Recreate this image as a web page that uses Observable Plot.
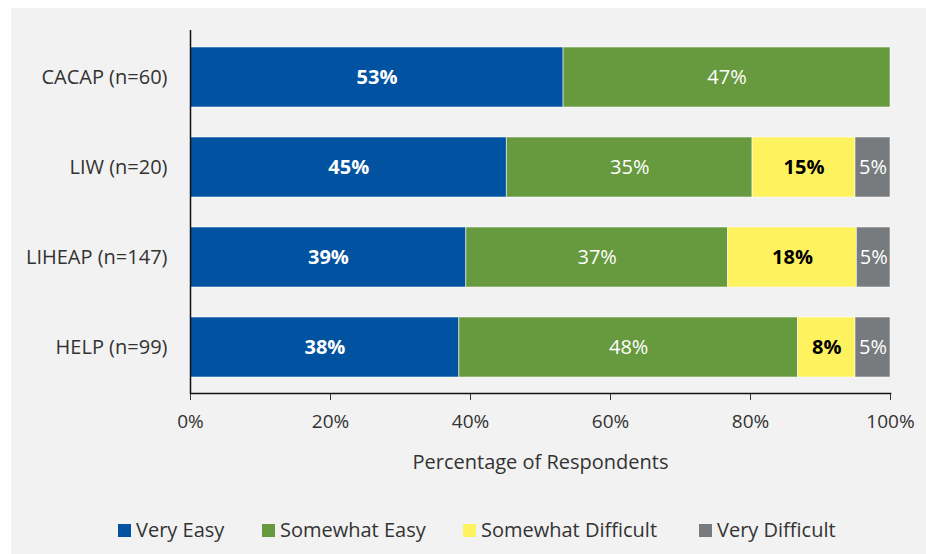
<!DOCTYPE html>
<html>
<head>
<meta charset="utf-8">
<script src="https://cdn.jsdelivr.net/npm/d3@7"></script>
<script src="https://cdn.jsdelivr.net/npm/@observablehq/plot@0.6"></script>
<style>
  html, body { margin: 0; padding: 0; background: #ffffff; }
  #wrap { position: absolute; left: 11px; top: 8px; width: 915px; height: 546px; background: #f2f2f2; font-family: "Open Sans", sans-serif; color: #333333; }
  #legend { position: absolute; left: 0; top: 508px; width: 100%; height: 28px; font-size: 20px; }
  .item { display: flex; align-items: center; position: absolute; top: 0; white-space: nowrap; line-height: 28px; }
  .sw { width: 13px; height: 13px; margin-right: 5px; display: inline-block; }
</style>
</head>
<body>
<div id="wrap"><div id="chart"></div><div id="legend"></div></div>
<script>
const categories = ["CACAP (n=60)", "LIW (n=20)", "LIHEAP (n=147)", "HELP (n=99)"];
const levels = ["Very Easy", "Somewhat Easy", "Somewhat Difficult", "Very Difficult"];
const colors = ["#0153a2", "#67993f", "#fff25f", "#787b7e"];
const veryEasy = [53.3, 45.2, 39.4, 38.4];
const somewhatEasy = [46.7, 35.1, 37.4, 48.4];
const somewhatDifficult = [0, 14.7, 18.4, 8.2];
const veryDifficult = [0, 5.0, 4.8, 5.0];
const xTicks = [0, 20, 40, 60, 80, 100];

const series = [veryEasy, somewhatEasy, somewhatDifficult, veryDifficult];
const data = [];
categories.forEach((c, i) => {
  let start = 0;
  levels.forEach((l, j) => {
    const v = series[j][i];
    if (v > 0) data.push({cat: c, level: l, value: v, start});
    start += v;
  });
});

const font = "'Open Sans', sans-serif";
const textStyle = (level, fill, weight) => Plot.textX(data.filter(d => d.level === level), {
  x: d => d.start + d.value / 2, y: "cat",
  text: d => Math.round(d.value) + "%",
  fill, fontWeight: weight, fontSize: 20, fontFamily: font
});

const chart = Plot.plot({
  width: 915,
  height: 495,
  marginLeft: 179,
  marginRight: 36,
  marginTop: 22,
  marginBottom: 110,
  style: {background: "transparent", fontFamily: font, fontSize: "19px", color: "#333333"},
  x: {domain: [0, 100], ticks: xTicks, tickFormat: d => d + "%", tickSize: 7, tickPadding: 14, label: null},
  y: {domain: categories, paddingInner: 1/3, paddingOuter: 0.183, tickSize: 0, tickPadding: 23, label: null},
  color: {domain: levels, range: colors},
  marks: [
    Plot.barX(data, Plot.stackX({x: "value", y: "cat", fill: "level", order: levels, stroke: "#ffffff", strokeOpacity: 0.55, strokeWidth: 1})),
    textStyle("Very Easy", "white", "bold"),
    textStyle("Somewhat Easy", "white", "normal"),
    textStyle("Somewhat Difficult", "black", "bold"),
    textStyle("Very Difficult", "white", "normal"),
    Plot.frame({anchor: "bottom", stroke: "#111", strokeWidth: 1.5}),
    Plot.ruleX([0], {stroke: "#111", strokeWidth: 1.5}),
    Plot.text(["Percentage of Respondents"], {frameAnchor: "bottom", dy: 75, fontSize: 20, fill: "#333333", fontFamily: font})
  ]
});
chart.querySelectorAll("g[aria-label='y-axis tick label'] text, g[aria-label='y-axis'] text").forEach(t => t.style.fontSize = "20px");
document.getElementById("chart").appendChild(chart);

const legendX = [107, 251, 452, 688];
const legend = document.getElementById("legend");
levels.forEach((l, i) => {
  const item = document.createElement("div");
  item.className = "item";
  item.style.left = legendX[i] + "px";
  const sw = document.createElement("span");
  sw.className = "sw";
  sw.style.background = colors[i];
  item.appendChild(sw);
  item.appendChild(document.createTextNode(l));
  legend.appendChild(item);
});
</script>
</body>
</html>
